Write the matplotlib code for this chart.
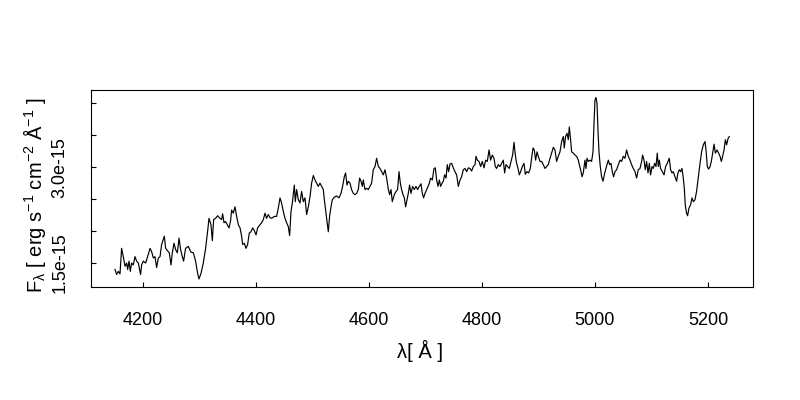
"""
Optical spectrum plot, R-style: flux density against wavelength,
inward ticks, sparse y labels written sideways.

Generates: out.png
"""

import matplotlib
matplotlib.use("Agg")
import matplotlib.pyplot as plt

plt.rcParams["font.family"] = ["Liberation Sans", "DejaVu Sans"]
plt.rcParams["mathtext.default"] = "regular"

# ── Data (wavelength in Å, flux in units of 1e-15 erg/s/cm2/Å) ─────────────────

FLUX_UNIT = 1e-15

wave = [
    # 4150 - 4335
    4151.2, 4154.0, 4157.0, 4160.0, 4162.8, 4165.8, 4168.9, 4171.7, 4173.5, 4175.9,
    4178.2, 4180.5, 4183.5, 4186.5, 4189.4, 4192.4, 4196.4, 4198.2, 4201.2, 4205.3,
    4208.8, 4213.1, 4215.9, 4218.9, 4221.9, 4224.8, 4227.8, 4230.8, 4233.6, 4238.4,
    4240.7, 4244.2, 4247.2, 4250.2, 4252.5, 4255.5, 4258.4, 4261.4, 4264.4, 4267.2,
    4270.2, 4272.5, 4276.0, 4280.8, 4285.6, 4289.7, 4293.7, 4297.3, 4299.7, 4303.3,
    4307.3, 4311.4, 4314.9, 4317.4, 4320.9, 4323.3, 4325.6, 4329.1, 4332.6,
    # 4335 - 4520
    4336.9, 4339.7, 4341.5, 4344.0, 4346.8, 4349.8, 4352.8, 4355.6, 4357.4, 4360.4,
    4363.4, 4366.3, 4369.3, 4372.3, 4375.1, 4376.9, 4379.9, 4382.9, 4385.7, 4388.7,
    4391.7, 4394.5, 4397.5, 4400.6, 4403.4, 4407.6, 4410.5, 4413.5, 4416.5, 4419.3,
    4422.3, 4425.3, 4428.1, 4432.9, 4437.0, 4440.0, 4443.0, 4445.8, 4448.8, 4451.8,
    4454.7, 4457.7, 4460.0, 4462.5, 4464.8, 4466.5, 4468.3, 4470.1, 4472.4, 4475.4,
    4478.4, 4481.2, 4484.2, 4487.2, 4490.1, 4493.1, 4496.1, 4498.9, 4501.9, 4504.9,
    4507.7, 4510.7, 4513.7, 4516.6, 4519.6,
    # 4520 - 4700
    4521.4, 4523.7, 4526.1, 4528.4, 4530.7, 4533.2, 4535.5, 4539.0, 4543.1, 4547.3,
    4550.9, 4553.7, 4556.7, 4559.0, 4561.5, 4563.8, 4566.8, 4569.6, 4572.6, 4575.6,
    4578.5, 4581.5, 4583.8, 4586.3, 4588.6, 4590.3, 4593.3, 4596.2, 4599.2, 4602.2,
    4605.0, 4608.0, 4611.0, 4613.9, 4616.9, 4619.9, 4622.7, 4625.7, 4628.7, 4631.6,
    4634.6, 4636.9, 4639.3, 4641.6, 4645.2, 4648.2, 4651.0, 4653.5, 4655.8, 4658.1,
    4660.6, 4662.9, 4665.2, 4667.6, 4669.9, 4672.2, 4674.7, 4677.5, 4680.5, 4683.5,
    4686.4, 4689.4, 4692.4, 4694.7, 4697.0, 4699.5,
    # 4700 - 4886
    4703.5, 4707.1, 4709.4, 4712.4, 4715.4, 4717.7, 4720.0, 4722.5, 4724.8, 4727.1,
    4729.6, 4731.8, 4734.1, 4736.6, 4738.9, 4741.2, 4743.7, 4746.5, 4749.5, 4752.5,
    4755.4, 4758.4, 4761.4, 4764.2, 4767.2, 4770.2, 4773.1, 4776.1, 4779.1, 4781.9,
    4784.9, 4787.9, 4789.7, 4792.0, 4795.0, 4797.8, 4800.8, 4803.8, 4806.7, 4809.7,
    4812.7, 4815.5, 4818.5, 4821.5, 4823.8, 4826.1, 4829.1, 4832.1, 4834.9, 4837.9,
    4840.3, 4842.7, 4845.6, 4848.6, 4851.6, 4854.4, 4856.9, 4859.2, 4861.5, 4864.0,
    4866.3, 4868.6, 4871.6, 4874.6, 4876.9, 4879.9, 4882.7, 4885.7,
    # 4886 - 5075 ([OIII] line)
    4888.0, 4890.5, 4892.8, 4895.1, 4897.6, 4899.8, 4902.9, 4905.7, 4908.7, 4911.7,
    4914.5, 4917.5, 4920.6, 4923.4, 4926.4, 4929.4, 4932.2, 4935.2, 4938.2, 4941.1,
    4944.1, 4945.8, 4948.1, 4950.6, 4952.9, 4954.7, 4957.0, 4958.8, 4961.8, 4964.8,
    4967.6, 4970.6, 4972.4, 4974.7, 4977.2, 4979.4, 4982.4, 4984.2, 4986.0, 4988.3,
    4991.3, 4994.1, 4996.6, 4998.4, 5000.1, 5001.9, 5003.7, 5005.4, 5007.2, 5009.5,
    5011.8, 5014.3, 5016.6, 5018.9, 5021.3, 5023.7, 5026.0, 5028.5, 5030.7, 5033.0,
    5035.5, 5038.3, 5041.4, 5044.4, 5047.2, 5050.2, 5053.2, 5056.0, 5059.0, 5062.0,
    5064.9, 5067.9, 5070.9, 5073.7,
    # 5075 - 5240 (Mg b)
    5076.7, 5079.7, 5082.6, 5084.3, 5086.8, 5089.1, 5091.4, 5093.9, 5096.2, 5098.5,
    5101.0, 5103.3, 5105.6, 5108.0, 5110.3, 5112.1, 5113.9, 5116.2, 5119.2, 5122.2,
    5125.0, 5128.0, 5131.5, 5133.9, 5136.3, 5138.6, 5141.6, 5144.5, 5146.9, 5149.3,
    5151.6, 5154.0, 5156.3, 5158.1, 5159.8, 5162.1, 5163.9, 5166.4, 5169.2, 5171.7,
    5174.0, 5177.0, 5179.8, 5182.9, 5185.9, 5188.7, 5191.7, 5194.7, 5196.5, 5198.8,
    5201.1, 5203.6, 5205.9, 5208.2, 5210.7, 5213.0, 5216.0, 5218.8, 5221.3, 5223.6,
    5225.9, 5228.4, 5230.7, 5233.0, 5235.5, 5237.8,
]

flux = [
    # 4150 - 4335
    1.40, 1.32, 1.37, 1.33, 1.73, 1.60, 1.45, 1.50, 1.40, 1.53,
    1.37, 1.50, 1.47, 1.60, 1.53, 1.50, 1.32, 1.47, 1.53, 1.50,
    1.60, 1.73, 1.68, 1.58, 1.60, 1.43, 1.58, 1.60, 1.79, 1.92,
    1.73, 1.69, 1.66, 1.47, 1.66, 1.81, 1.71, 1.66, 1.89, 1.71,
    1.60, 1.53, 1.73, 1.76, 1.67, 1.66, 1.53, 1.34, 1.25, 1.34,
    1.50, 1.73, 1.99, 2.20, 2.10, 1.85, 2.18, 2.20, 2.24,
    # 4335 - 4520
    2.20, 2.18, 2.27, 2.13, 2.15, 2.10, 2.05, 2.16, 2.33, 2.28,
    2.38, 2.23, 2.10, 2.05, 1.92, 1.79, 1.81, 1.73, 1.79, 1.97,
    1.99, 2.05, 2.01, 1.94, 2.05, 2.10, 2.13, 2.18, 2.28, 2.20,
    2.26, 2.21, 2.20, 2.23, 2.23, 2.36, 2.52, 2.44, 2.31, 2.20,
    2.13, 2.07, 1.93, 2.31, 2.44, 2.57, 2.72, 2.46, 2.65, 2.49,
    2.44, 2.62, 2.46, 2.52, 2.26, 2.38, 2.54, 2.75, 2.87, 2.80,
    2.75, 2.70, 2.75, 2.70, 2.65,
    # 4520 - 4700
    2.49, 2.33, 2.15, 1.99, 2.23, 2.38, 2.49, 2.53, 2.55, 2.52,
    2.59, 2.70, 2.85, 2.91, 2.72, 2.78, 2.75, 2.65, 2.59, 2.57,
    2.59, 2.65, 2.83, 2.78, 2.70, 2.80, 2.65, 2.67, 2.65, 2.70,
    2.75, 2.96, 3.01, 3.14, 3.01, 2.98, 2.93, 2.88, 2.96, 2.83,
    2.65, 2.57, 2.65, 2.46, 2.57, 2.62, 2.65, 2.93, 2.75, 2.65,
    2.57, 2.52, 2.38, 2.49, 2.59, 2.72, 2.59, 2.70, 2.65, 2.70,
    2.65, 2.70, 2.74, 2.59, 2.52, 2.59,
    # 4700 - 4886
    2.67, 2.75, 2.83, 2.80, 2.98, 2.99, 2.80, 2.70, 2.80, 2.70,
    2.75, 2.78, 2.88, 2.83, 3.04, 2.93, 3.05, 3.06, 2.99, 2.93,
    2.88, 2.70, 2.80, 2.85, 2.96, 2.98, 2.93, 2.99, 2.98, 2.94,
    3.01, 3.04, 3.17, 3.11, 3.09, 3.01, 3.09, 2.99, 3.11, 3.09,
    3.27, 3.11, 3.19, 3.14, 3.01, 2.98, 3.04, 3.01, 3.06, 3.11,
    2.91, 3.04, 3.01, 2.98, 3.09, 3.19, 3.39, 3.19, 3.06, 2.98,
    2.88, 2.93, 3.01, 3.06, 2.89, 2.93, 2.91, 2.98,
    # 4886 - 5075 ([OIII] line)
    3.14, 3.30, 3.27, 3.11, 3.24, 3.17, 3.09, 3.09, 3.04, 2.98,
    3.01, 3.04, 3.14, 3.22, 3.31, 3.27, 3.09, 3.17, 3.24, 3.40,
    3.48, 3.30, 3.48, 3.53, 3.43, 3.63, 3.43, 3.24, 3.22, 3.19,
    3.17, 3.11, 3.04, 2.96, 2.85, 2.91, 3.11, 2.98, 3.14, 3.09,
    3.11, 3.09, 3.24, 3.69, 4.05, 4.09, 4.00, 3.58, 3.24, 3.01,
    2.85, 2.78, 2.88, 2.96, 3.04, 3.11, 3.04, 3.06, 2.93, 2.85,
    2.93, 2.96, 3.04, 3.11, 3.09, 3.17, 3.14, 3.27, 3.17, 3.11,
    3.04, 2.98, 2.93, 2.83,
    # 5075 - 5240 (Mg b)
    2.96, 2.98, 3.09, 3.19, 3.11, 2.96, 3.09, 2.91, 3.06, 2.88,
    3.01, 2.98, 3.06, 3.01, 3.22, 3.01, 3.11, 2.98, 2.93, 2.88,
    3.01, 3.06, 3.14, 2.96, 2.91, 2.93, 2.85, 2.78, 2.91, 2.96,
    2.93, 2.98, 2.83, 2.67, 2.41, 2.28, 2.24, 2.36, 2.41, 2.52,
    2.46, 2.49, 2.62, 2.85, 3.06, 3.24, 3.35, 3.40, 3.27, 3.01,
    2.97, 3.01, 3.09, 3.22, 3.36, 3.22, 3.27, 3.22, 3.17, 3.09,
    3.17, 3.27, 3.43, 3.35, 3.45, 3.48,
]

XTICKS       = [4200, 4400, 4600, 4800, 5000, 5200]
YTICKS       = [1.5, 2.0, 2.5, 3.0, 3.5, 4.0]
YTICK_LABELS = ["1.5e-15", "", "", "3.0e-15", "", ""]

XLIM = (4108.7, 5279.6)
YLIM = (1.125, 4.208)

XLABEL = "λ[ Å ]"
YLABEL = r"F$_{λ}$ [ erg s$^{-1}$ cm$^{-2}$ Å$^{-1}$ ]"

# ── Plot ──────────────────────────────────────────────────────────────────────

fig = plt.figure(figsize=(8, 4), dpi=100)
fig.patch.set_facecolor("white")
ax = fig.add_axes([0.11375, 0.2825, 0.8275, 0.4925])

ax.plot(wave, [f * FLUX_UNIT for f in flux], color="black", lw=0.85)

ax.set_xlim(*XLIM)
ax.set_ylim(YLIM[0] * FLUX_UNIT, YLIM[1] * FLUX_UNIT)

ax.set_xticks(XTICKS)
ax.set_xticklabels([str(t) for t in XTICKS])
ax.set_yticks([t * FLUX_UNIT for t in YTICKS])
ax.set_yticklabels(YTICK_LABELS, rotation=90, va="center")

for s in ax.spines.values():
    s.set_linewidth(0.8)
    s.set_color("black")

ax.tick_params(direction="in", length=3.6, width=0.8, colors="black", labelsize=13)
ax.tick_params(axis="x", pad=18)
ax.tick_params(axis="y", pad=16)

fig.text(0.5246, 0.105, XLABEL, ha="center", va="baseline", fontsize=14.5)
fig.text(0.0525, 0.5125, YLABEL, ha="center", va="baseline", fontsize=14.5,
         rotation=90, rotation_mode="anchor")

fig.savefig("out.png", dpi=100, facecolor="white")
plt.close(fig)
